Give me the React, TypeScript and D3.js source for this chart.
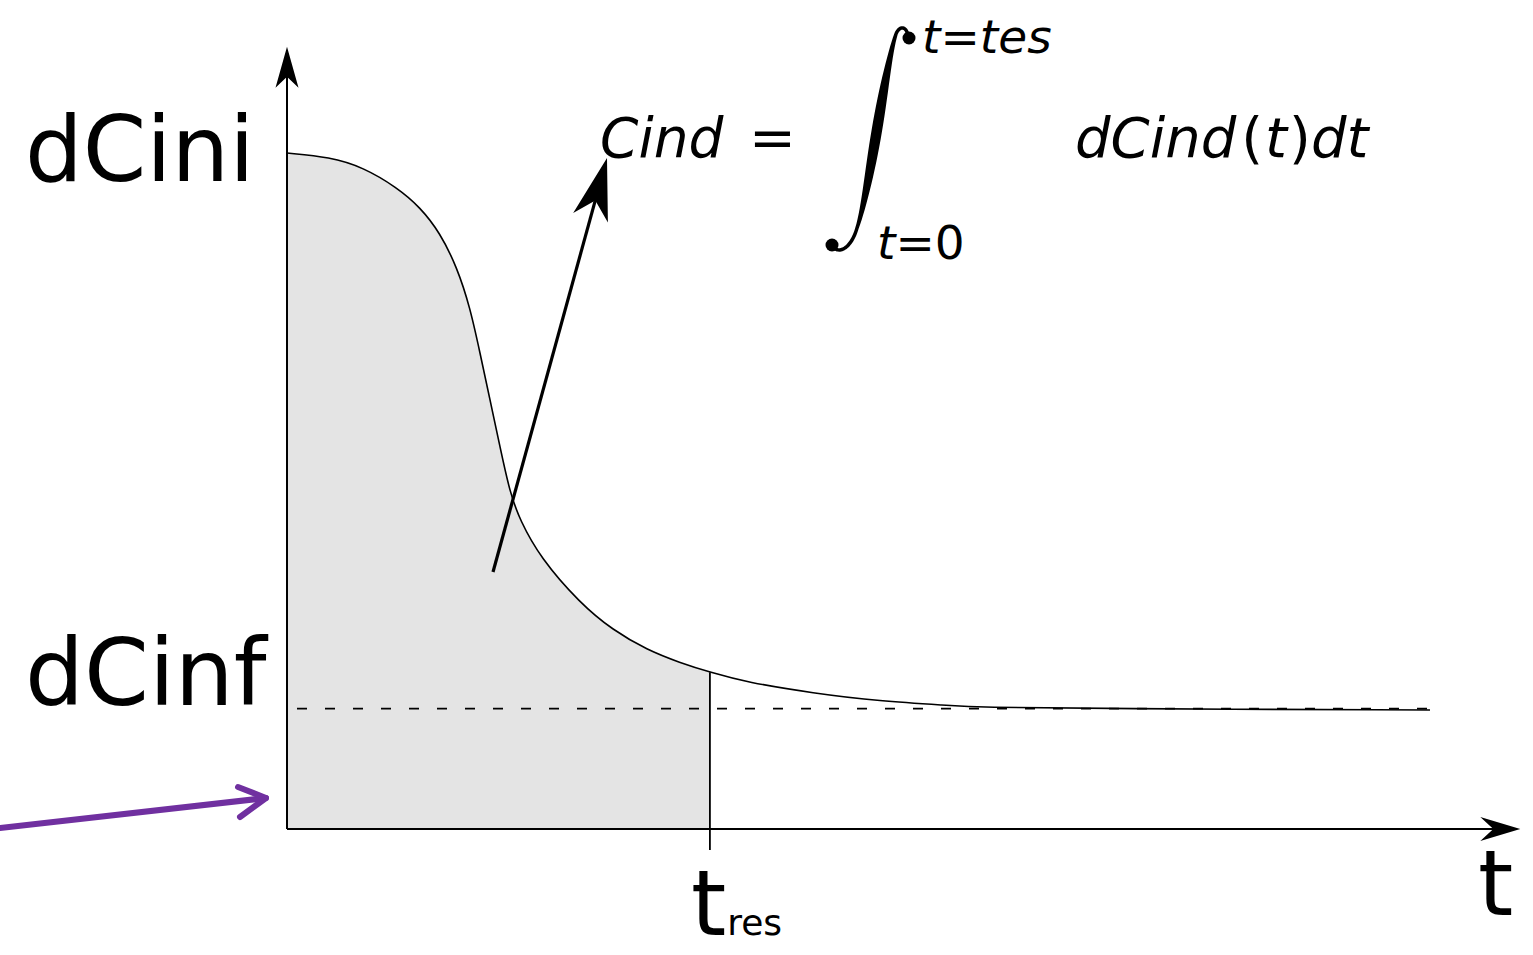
import React from "react";
import * as d3 from "d3";

// curve: time (0..100) and concentration (dCini = 100)
const times = [0, 3.76, 6.65, 9.62, 11.64, 13.39, 14.87, 16.01, 16.89, 17.76, 18.64, 19.51, 20.38, 22.13, 25.63, 28.52, 31.5, 34.38, 37.0, 40.24, 46.02, 51.88, 57.74, 60.63, 71.13, 100];
const conc = [100, 99.4, 97.9, 94.9, 92.0, 88.2, 83.1, 77.2, 70.4, 63.5, 56.5, 49.7, 45.7, 40.2, 33.4, 29.4, 26.5, 24.6, 23.2, 21.7, 20.1, 18.9, 18.3, 18.0, 17.8, 17.6];
const dCini = 100;
const dCinf = 17.8;
const tRes = 37.0;
const axisEnd = { t: 107.9, c: 115.7 };

const W = 1533;
const H = 955;

const x = d3.scaleLinear().domain([0, 100]).range([287, 1430]);
const y = d3.scaleLinear().domain([0, 100]).range([829, 153]);

const points = times.map((t, i) => ({ t, c: conc[i] }));

const line = d3
  .line<{ t: number; c: number }>()
  .x((d) => x(d.t))
  .y((d) => y(d.c))
  .curve(d3.curveBasis);

const area = d3
  .area<{ t: number; c: number }>()
  .x((d) => x(d.t))
  .y0(y(0))
  .y1((d) => y(d.c))
  .curve(d3.curveBasis);

// filled arrowhead with a notch, tip at (tx,ty), pointing along (dx,dy)
const arrowHead = (tx: number, ty: number, dx: number, dy: number, len: number, half: number, notch: number) => {
  const n = Math.hypot(dx, dy);
  const ux = dx / n;
  const uy = dy / n;
  const px = -uy;
  const py = ux;
  const bx = tx - ux * len;
  const by = ty - uy * len;
  const nx = tx - ux * notch;
  const ny = ty - uy * notch;
  return `M${tx},${ty}L${bx + px * half},${by + py * half}L${nx},${ny}L${bx - px * half},${by - py * half}Z`;
};

// integral sign: centerline as cubic pieces, outline with a thick middle
const integralPath = () => {
  const segs = [
    [[908, 38], [908, 27], [900, 24], [896, 34]],
    [[896, 34], [884, 70], [870, 190], [857, 228]],
    [[857, 228], [852, 246], [840, 256], [832, 246]],
  ];
  const pts: [number, number][] = [];
  segs.forEach((s, k) => {
    for (let i = k === 0 ? 0 : 1; i <= 30; i++) {
      const u = i / 30;
      const a = (1 - u) ** 3, b = 3 * (1 - u) ** 2 * u, c = 3 * (1 - u) * u * u, d = u ** 3;
      pts.push([
        a * s[0][0] + b * s[1][0] + c * s[2][0] + d * s[3][0],
        a * s[0][1] + b * s[1][1] + c * s[2][1] + d * s[3][1],
      ]);
    }
  });
  const left: [number, number][] = [];
  const right: [number, number][] = [];
  pts.forEach((p, i) => {
    const p0 = pts[Math.max(0, i - 1)];
    const p1 = pts[Math.min(pts.length - 1, i + 1)];
    const tx = p1[0] - p0[0];
    const ty = p1[1] - p0[1];
    const n = Math.hypot(tx, ty) || 1;
    const nx = -ty / n;
    const ny = tx / n;
    const f = Math.max(0, Math.sin((Math.PI * (p[1] - 34)) / 194));
    const w = 3.5 + 7 * Math.pow(f, 1.2);
    left.push([p[0] + (nx * w) / 2, p[1] + (ny * w) / 2]);
    right.push([p[0] - (nx * w) / 2, p[1] - (ny * w) / 2]);
  });
  return (d3.line()([...left, ...right.reverse()]) || "") + "Z";
};

const App = () => {
  const x0 = x(0);
  const y0 = y(0);
  const xEnd = x(axisEnd.t);
  const yEnd = y(axisEnd.c);
  const shaded = points.filter((d) => d.t <= tRes);

  // annotation arrow toward the formula
  const a1 = { x: 493, y: 572 };
  const a2 = { x: 607, y: 158 };

  const mathFont = "'DejaVu Sans', sans-serif";

  return (
    <svg width={W} height={H} style={{ position: "absolute", left: 0, top: 0, background: "#fff" }}>
      <path d={area(shaded) || ""} fill="#e4e4e4" />
      <line x1={x(0) + 10} x2={x(100)} y1={y(dCinf)} y2={y(dCinf)} stroke="#000" strokeWidth={1.6} strokeDasharray="10 18" />
      <path d={line(points) || ""} fill="none" stroke="#000" strokeWidth={1.6} />
      <line x1={x(tRes)} x2={x(tRes)} y1={y(conc[times.indexOf(tRes)])} y2={y0 + 21} stroke="#000" strokeWidth={1.8} />

      {/* axes */}
      <line x1={x0} x2={x0} y1={y0} y2={yEnd + 20} stroke="#000" strokeWidth={2} />
      <path d={arrowHead(x0, yEnd, 0, -1, 41, 11.5, 30)} fill="#000" />
      <line x1={x0} x2={xEnd - 20} y1={y0} y2={y0} stroke="#000" strokeWidth={2} />
      <path d={arrowHead(xEnd, y0, 1, 0, 40, 12, 27)} fill="#000" />

      {/* labels */}
      <g fontFamily="'DejaVu Sans', sans-serif" fill="#000">
        <text x={25} y={y(dCini) + 28} fontSize={91}>dCini</text>
        <text x={25} y={y(dCinf) - 4} fontSize={93}>dCinf</text>
        <text x={x(tRes) - 19} y={y0 + 106} fontSize={90}>
          t<tspan fontSize={36} dx={1}>res</tspan>
        </text>
        <text x={1478} y={y0 + 86} fontSize={90}>t</text>
      </g>

      {/* arrow to the formula */}
      <line x1={a1.x} y1={a1.y} x2={a2.x - 0.267 * 40} y2={a2.y + 0.964 * 40} stroke="#000" strokeWidth={3.2} />
      <path d={arrowHead(a2.x, a2.y, a2.x - a1.x, a2.y - a1.y, 62, 18, 44)} fill="#000" />

      {/* purple arrow */}
      <line x1={0} y1={828} x2={266} y2={798} stroke="#7030a0" strokeWidth={6} strokeLinecap="round" />
      <polyline points="238,787 266,798 240,817" fill="none" stroke="#7030a0" strokeWidth={6} strokeLinecap="round" strokeLinejoin="round" />

      {/* formula */}
      <g fontFamily={mathFont} fill="#000">
        <text x={600} y={157} fontSize={55} fontStyle="italic">Cind</text>
        <text x={749} y={157} fontSize={56}>=</text>
        <path d={integralPath()} fill="#000" />
        <circle cx={909} cy={38} r={6.5} />
        <circle cx={832} cy={245} r={6.5} />
        <text x={922} y={53} fontSize={47}>
          <tspan fontStyle="italic">t</tspan>
          <tspan>=</tspan>
          <tspan fontStyle="italic">tes</tspan>
        </text>
        <text x={877} y={259} fontSize={47}>
          <tspan fontStyle="italic">t</tspan>
          <tspan>=0</tspan>
        </text>
        <text x={1075} y={157} fontSize={56}>
          <tspan fontStyle="italic">dCind</tspan>
          <tspan dx={5}>(</tspan>
          <tspan fontStyle="italic" dx={2}>t</tspan>
          <tspan dx={2}>)</tspan>
          <tspan fontStyle="italic">dt</tspan>
        </text>
      </g>
    </svg>
  );
};

export default App;
